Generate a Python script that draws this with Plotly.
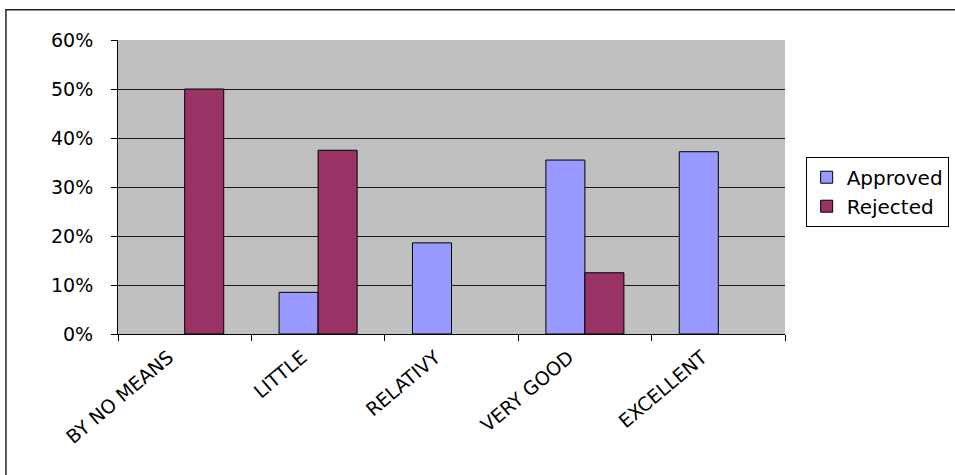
import plotly.graph_objects as go

# Survey ratings, share of respondents per answer
categories = ["BY NO MEANS", "LITTLE", "RELATIVY", "VERY GOOD", "EXCELLENT"]
approved = [None, 0.085, 0.186, 0.355, 0.372]
rejected = [0.50, 0.375, None, 0.125, None]
y_ticks = [0, 0.1, 0.2, 0.3, 0.4, 0.5, 0.6]

FONT = "DejaVu Sans"

fig = go.Figure()
fig.add_trace(go.Bar(
    name="Approved", x=categories, y=approved,
    marker=dict(color="#9999FF", line=dict(color="#000000", width=1)),
))
fig.add_trace(go.Bar(
    name="Rejected", x=categories, y=rejected,
    marker=dict(color="#993366", line=dict(color="#000000", width=1)),
))

fig.update_layout(
    width=955, height=475,
    margin=dict(l=118, r=170, t=40, b=141, autoexpand=False),
    paper_bgcolor="#FFFFFF",
    plot_bgcolor="#C0C0C0",
    barmode="group",
    bargap=0.415,
    bargroupgap=0,
    font=dict(family=FONT, size=18, color="#000000"),
    showlegend=True,
    legend=dict(
        x=1.031, y=0.603, xanchor="left", yanchor="top",
        bgcolor="#FFFFFF", bordercolor="#000000", borderwidth=1,
        font=dict(family=FONT, size=20, color="#000000"),
        tracegroupgap=0, itemwidth=30,
    ),
    shapes=[
        # frame around the whole chart
        dict(type="rect", xref="paper", yref="paper",
             x0=-0.168, x1=1.26, y0=-0.49, y1=1.103,
             line=dict(color="#222222", width=1.5), fillcolor="rgba(0,0,0,0)",
             layer="below"),
    ],
)

fig.update_xaxes(
    type="category",
    showline=True, linecolor="#000000", linewidth=1,
    ticks="outside", tickson="boundaries", ticklen=6, tickcolor="#000000",
    tickangle=-40,
    ticklabelshift=-16,
    ticklabelstandoff=4,
    tickfont=dict(family=FONT, size=19, color="#000000"),
    showgrid=False,
)
fig.update_yaxes(
    range=[0, 0.6],
    tickvals=y_ticks,
    tickformat=".0%",
    showline=True, linecolor="#000000", linewidth=1,
    ticks="outside", ticklen=6, tickcolor="#000000",
    ticklabelstandoff=14,
    showgrid=True, gridcolor="#1a1a1a", gridwidth=1,
    zeroline=False,
    tickfont=dict(family=FONT, size=19, color="#000000"),
)

fig.write_html("out.html")
